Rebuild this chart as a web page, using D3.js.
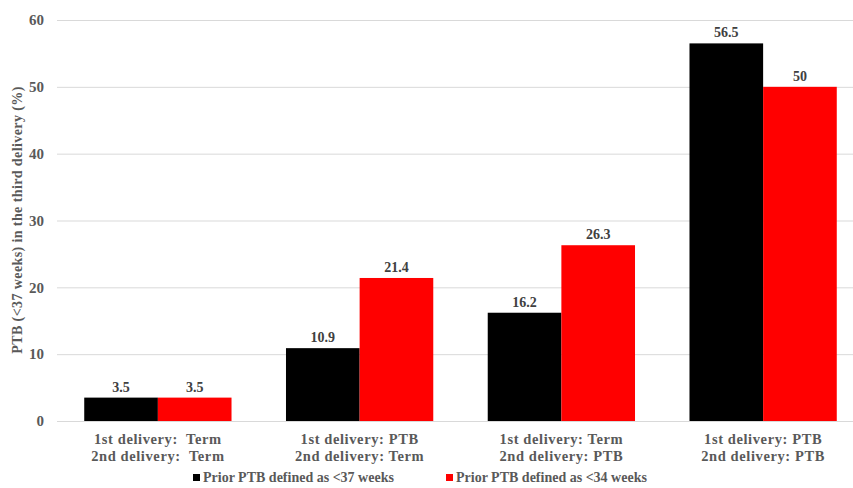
<!DOCTYPE html>
<html><head><meta charset="utf-8">
<script src="https://cdn.jsdelivr.net/npm/d3@7"></script>
<style>body{margin:0;background:#fff}svg{display:block}</style>
</head><body>
<svg id="c" width="853" height="488"></svg>
<script>
const categories = [
  ["1st delivery:  Term", "2nd delivery:  Term"],
  ["1st delivery: PTB", "2nd delivery: Term"],
  ["1st delivery: Term", "2nd delivery: PTB"],
  ["1st delivery: PTB", "2nd delivery: PTB"]
];
const seriesNames = ["Prior PTB defined as <37 weeks", "Prior PTB defined as <34 weeks"];
const series37 = [3.5, 10.9, 16.2, 56.5];
const series34 = [3.5, 21.4, 26.3, 50];
const yTicks = [0, 10, 20, 30, 40, 50, 60];
const colors = ["#000000", "#ff0000"];
const yTitle = "PTB (<37 weeks) in the third delivery (%)";

const svg = d3.select("#c");
const font = "'Liberation Serif','Times New Roman',serif";
const x0 = d3.scaleBand().domain(d3.range(categories.length)).range([57, 864]).paddingInner(0.27).paddingOuter(0.135);
const x1 = d3.scaleBand().domain([0, 1]).range([0, x0.bandwidth()]);
const y = d3.scaleLinear().domain([0, 60]).range([421, 20]);

// gridlines
const yAxis = d3.axisLeft(y).tickValues(yTicks).tickSize(-(853 - 57)).tickFormat(d3.format("d")).tickPadding(13);
const gy = svg.append("g").attr("transform", "translate(57,0)").call(yAxis);
gy.select(".domain").remove();
gy.selectAll(".tick line").attr("stroke", "#d9d9d9").attr("stroke-width", 1);
gy.selectAll(".tick text").attr("fill", "#595959").style("font-family", font).style("font-weight", "bold").style("font-size", "15px");

const data = categories.map((c, i) => [series37[i], series34[i]]);
const groups = svg.append("g").selectAll("g").data(data).join("g")
  .attr("transform", (d, i) => `translate(${x0(i)},0)`);
groups.selectAll("rect").data(d => d.map((v, j) => ({v, j}))).join("rect")
  .attr("x", d => x1(d.j)).attr("width", x1.bandwidth())
  .attr("y", d => y(d.v)).attr("height", d => y(0) - y(d.v))
  .attr("fill", d => colors[d.j]);
groups.selectAll("text").data(d => d.map((v, j) => ({v, j}))).join("text")
  .attr("x", d => x1(d.j) + x1.bandwidth() / 2).attr("y", d => y(d.v) - 6)
  .attr("text-anchor", "middle").attr("fill", "#404040")
  .style("font-family", font).style("font-weight", "bold").style("font-size", "14px")
  .text(d => d.v);

// category labels
const cl = svg.append("g").selectAll("text").data(categories).join("text")
  .attr("x", (d, i) => x0(i) + x0.bandwidth() / 2).attr("y", 444)
  .attr("text-anchor", "middle").attr("fill", "#595959")
  .style("font-family", font).style("font-weight", "bold").style("font-size", "14.5px")
  .style("letter-spacing", "0.6px");
cl.selectAll("tspan").data(d => d).join("tspan")
  .attr("x", function(){ return d3.select(this.parentNode).attr("x"); })
  .attr("dy", (d, i) => i === 0 ? 0 : 17).style("white-space", "pre").text(d => d);

// y title
svg.append("text").attr("transform", "translate(22,220) rotate(-90)")
  .attr("text-anchor", "middle").attr("fill", "#595959")
  .style("font-family", font).style("font-weight", "bold").style("font-size", "14px")
  .style("letter-spacing", "0.4px")
  .text(yTitle);

// legend
const legX = [193, 446];
const lg = svg.append("g").selectAll("g").data(seriesNames).join("g")
  .attr("transform", (d, i) => `translate(${legX[i]},482)`);
lg.append("rect").attr("x", 0).attr("y", -8).attr("width", 7).attr("height", 7).attr("fill", (d, i) => colors[i]);
lg.append("text").attr("x", 10).attr("y", 0).attr("fill", "#595959")
  .style("font-family", font).style("font-weight", "bold").style("font-size", "14px").text(d => d);
</script>
</body></html>
